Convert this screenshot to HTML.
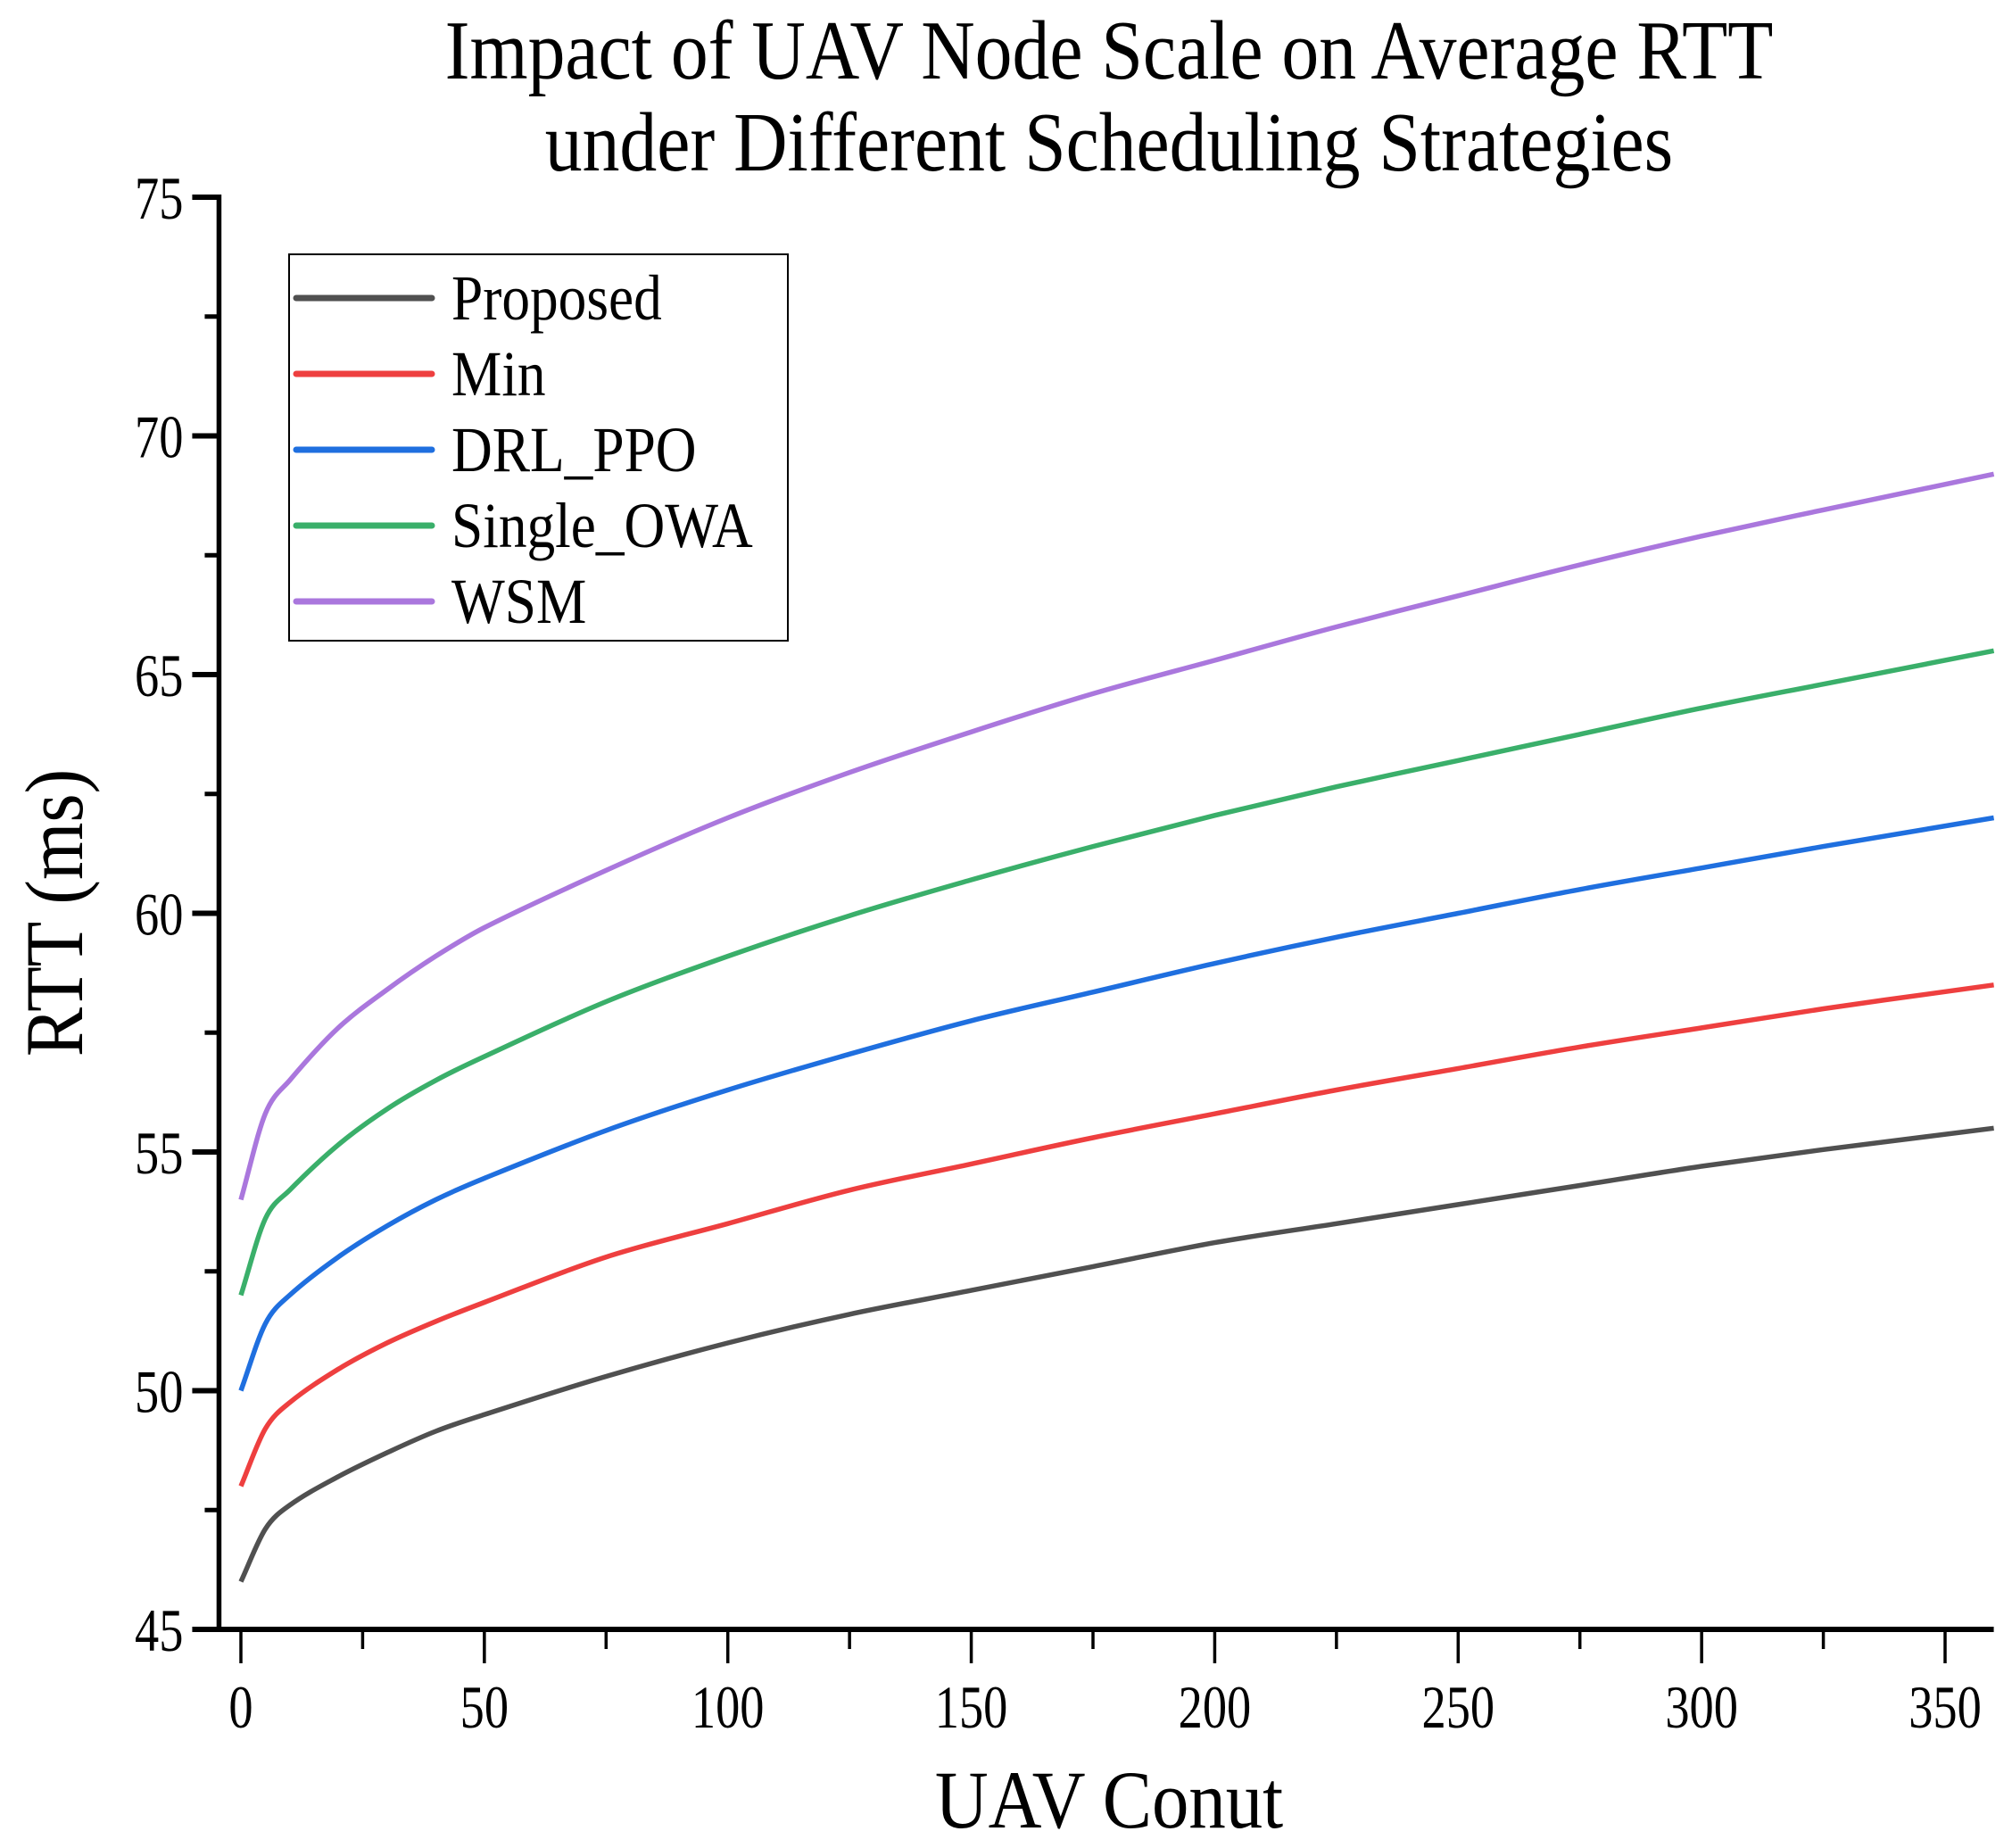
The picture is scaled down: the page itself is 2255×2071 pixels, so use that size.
<!DOCTYPE html>
<html><head><meta charset="utf-8"><style>
html,body{margin:0;padding:0;background:#fff}
svg text{font-family:"Liberation Serif",serif;fill:#000}
</style></head><body>
<svg id="chart" width="2255" height="2066" viewBox="0 0 2255 2066" xmlns="http://www.w3.org/2000/svg">
<text font-size="94" text-anchor="middle" transform="translate(1243,88) scale(0.89,1)">Impact of UAV Node Scale on Average RTT</text>
<text font-size="94" text-anchor="middle" transform="translate(1243,191) scale(0.89,1)">under Different Scheduling Strategies</text>
<text font-size="92" text-anchor="middle" transform="translate(92,1023) rotate(-90) scale(0.9,1)">RTT (ms)</text>
<text font-size="92" text-anchor="middle" transform="translate(1243,2048) scale(0.9,1)">UAV Conut</text>
<g id="axes"></g>
<g id="series"></g>
<g id="legend"></g>
</svg>
<script>
const xs = [0,5,10,20,30,40,50,75,100,125,150,175,200,225,250,275,300,325,360];
const proposed = [46,47.1,47.6,48.2,48.7,49.15,49.5,50.3,51.0,51.6,52.1,52.6,53.1,53.5,53.9,54.3,54.7,55.05,55.5];
const minS = [48,49.2,49.75,50.45,51.0,51.45,51.85,52.8,53.5,54.2,54.75,55.3,55.8,56.3,56.75,57.2,57.6,58.0,58.5];
const drlPpo = [50,51.4,52.0,52.8,53.45,54.0,54.45,55.45,56.3,57.05,57.75,58.35,58.95,59.5,60.0,60.5,60.95,61.4,62.0];
const singleOwa = [52,53.6,54.2,55.15,55.9,56.5,57.0,58.15,59.1,59.95,60.7,61.4,62.05,62.65,63.2,63.75,64.3,64.8,65.5];
const wsm = [54,55.8,56.5,57.6,58.4,59.1,59.7,60.9,62.0,62.95,63.8,64.6,65.3,66.0,66.65,67.3,67.9,68.45,69.2];
const seriesNames = ["Proposed","Min","DRL_PPO","Single_OWA","WSM"];
const xTicks = [0,50,100,150,200,250,300,350];
const yTicks = [45,50,55,60,65,70,75];

const NS="http://www.w3.org/2000/svg";
const X0=270, XS=(2180-270)/350;
function xScale(v){return X0+v*XS;}
function yScale(v){return 1826-(v-45)*(1826-221)/30;}
function mk(tag,attrs,parent){const e=document.createElementNS(NS,tag);for(const k in attrs)e.setAttribute(k,attrs[k]);parent.appendChild(e);return e;}
const axes=document.getElementById('axes');
const axL=xScale(-4.5), axR=xScale(360);
let e;
e=mk('line',{x1:axL,y1:yScale(75)-3,x2:axL,y2:yScale(45),stroke:'#000','stroke-width':5.5},axes);


e=mk('line',{x1:axL-3,y1:yScale(45),x2:axR,y2:yScale(45),stroke:'#000','stroke-width':6},axes);


yTicks.forEach(t=>{
  const y=yScale(t);
  e=mk('line',{x1:axL-30,y1:y,x2:axL,y2:y,stroke:'#000','stroke-width':6},axes);
  
  
  e=mk('text',{'font-size':68,'text-anchor':'end',transform:'translate('+(axL-40)+','+(y+24)+') scale(0.8,1)'},axes);
  e.textContent=t;
  
  
  if(t<75){
    e=mk('line',{x1:axL-16,y1:yScale(t+2.5),x2:axL,y2:yScale(t+2.5),stroke:'#000','stroke-width':5},axes);
    
    
  }
});
xTicks.forEach(t=>{
  const x=xScale(t);
  e=mk('line',{x1:x,y1:yScale(45),x2:x,y2:yScale(45)+38,stroke:'#000','stroke-width':3.5},axes);
  
  
  e=mk('text',{'font-size':68,'text-anchor':'middle',transform:'translate('+x+',1936) scale(0.8,1)'},axes);
  e.textContent=t;
  
  
  if(t<350){
    e=mk('line',{x1:xScale(t+25),y1:yScale(45),x2:xScale(t+25),y2:yScale(45)+22,stroke:'#000','stroke-width':3.5},axes);
    
    
  }
});
const data=[proposed,minS,drlPpo,singleOwa,wsm];
const colors=['#505050','#ee3f3f','#1f6fdf','#3aaf6a','#aa77dd'];
const sg=document.getElementById('series');
function smoothPath(pts){
  const n=pts.length, m=[];
  for(let i=0;i<n;i++){
    const a=pts[Math.max(0,i-1)], b=pts[Math.min(n-1,i+1)];
    m.push((b[1]-a[1])/(b[0]-a[0]));
  }
  let d='M'+pts[0][0].toFixed(1)+','+pts[0][1].toFixed(1);
  for(let i=0;i<n-1;i++){
    const p1=pts[i], p2=pts[i+1], dx=(p2[0]-p1[0])/3;
    const sec=(p2[1]-p1[1])/(p2[0]-p1[0]);
    let m1=m[i], m2=m[i+1];
    if(i===0) m1=sec; if(i===n-2) m2=sec;
    d+=' C'+(p1[0]+dx).toFixed(1)+','+(p1[1]+m1*dx).toFixed(1)+' '+(p2[0]-dx).toFixed(1)+','+(p2[1]-m2*dx).toFixed(1)+' '+p2[0].toFixed(1)+','+p2[1].toFixed(1);
  }
  return d;
}
data.forEach((arr,i)=>{
  const pts=arr.map((v,j)=>[xScale(xs[j]),yScale(v)]);
  e=mk('path',{d:smoothPath(pts),fill:'none',stroke:colors[i],'stroke-width':5.5,'stroke-linejoin':'round'},sg);
  
  
});
const lg=document.getElementById('legend');
e=mk('rect',{x:324,y:285,width:559,height:433,fill:'#fff',stroke:'#000','stroke-width':2},lg);


seriesNames.forEach((n,i)=>{
  const y=334+i*85;
  e=mk('line',{x1:332,y1:y,x2:484,y2:y,stroke:colors[i],'stroke-width':7,'stroke-linecap':'round'},lg);
  
  
  e=mk('text',{'font-size':72,transform:'translate(506,'+(y+24)+') scale(0.88,1)'},lg);
  e.textContent=n;
  
  
});
</script>
</body></html>
